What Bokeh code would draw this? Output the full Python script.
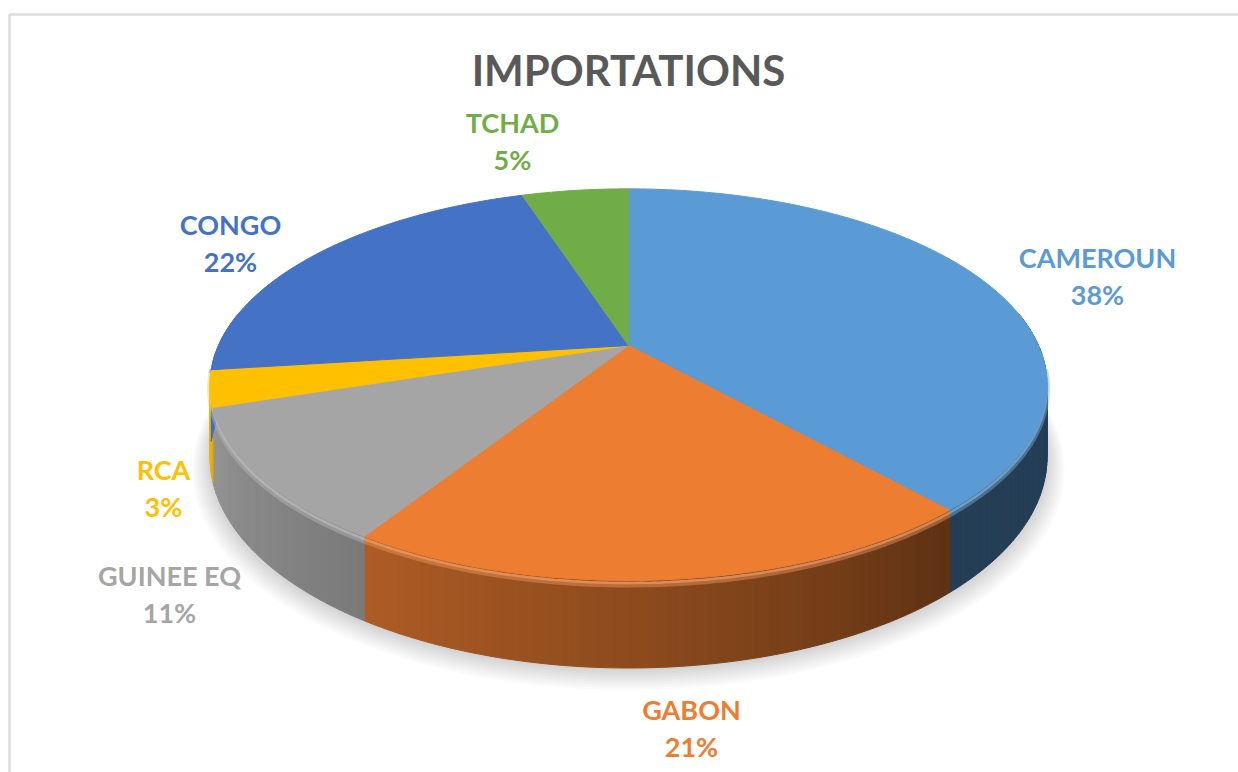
import numpy as np
from bokeh.plotting import figure
from bokeh.models import Range1d, ColumnDataSource
from bokeh.embed import file_html
from bokeh.resources import INLINE
from bokeh.core.properties import value

# ---------------- data ----------------
countries = ["CAMEROUN", "GABON", "GUINEE EQ", "RCA", "CONGO", "TCHAD"]
shares = [38.4, 20.6, 11.0, 3.0, 22.0, 5.0]
colors = ["#5B9BD5", "#ED7D31", "#A5A5A5", "#FFC000", "#4472C4", "#70AD47"]
title_text = "IMPORTATIONS"

# ---------------- layout ----------------
W, H = 1238, 772
CX, CY = 628, 345          # apex of the pie
A, B, K, D = 410, 188, 0.2, 70   # radii, perspective, depth
label_x = [1097, 691, 169, 163, 230, 512]
label_y = [257, 709, 575, 469, 224, 122]
line_gap = 37
FONT = value("Lato")


def proj(theta_deg, r=1.0):
    t = np.radians(theta_deg)
    u = r * np.sin(t)
    v = r * np.cos(t)
    w = 1 + K * v
    return CX + A * u / w, CY - B * v / w, w


def hex2rgb(h):
    h = h.lstrip("#")
    return [int(h[i:i + 2], 16) for i in (0, 2, 4)]


def rgb2hex(c):
    return "#%02x%02x%02x" % tuple(int(max(0, min(255, round(x)))) for x in c)


def shade(h, f):
    return rgb2hex([x * f for x in hex2rgb(h)])


def lighten(h, t):
    return rgb2hex([x + (255 - x) * t for x in hex2rgb(h)])


def light_factor(theta):
    return 0.40 + 0.55 * np.clip((theta - 140) / 125.0, 0, 1) ** 0.9


total = float(sum(shares))
bounds = np.concatenate([[0], np.cumsum(shares)]) / total * 360.0

p = figure(width=W, height=H, x_range=Range1d(0, W), y_range=Range1d(H, 0),
           output_backend="svg", toolbar_location=None, min_border=0,
           x_axis_type=None, y_axis_type=None)
p.grid.visible = False
p.outline_line_color = None
p.background_fill_color = "white"
p.border_fill_color = "white"

# frame of the chart area
p.quad(left=[9], right=[1260], top=[14], bottom=[800], fill_color=None,
       line_color="#DCDCDC", line_width=2.5)

# soft shadow under the pie
th_all = np.linspace(0, 360, 361)
for i in range(9):
    X, Y, Wt = proj(th_all, 1.0 + 0.005 * i)
    Y = Y + D / Wt + 2 + 0.9 * i
    p.patch(list(X), list(Y), fill_color="black", fill_alpha=0.02, line_color=None)

# side strips (front)
sx, sy, sc = [], [], []
for i, c in enumerate(colors):
    a0, a1 = bounds[i], bounds[i + 1]
    lo, hi = max(a0, 80), min(a1, 280)
    if hi <= lo:
        continue
    n = max(2, int(np.ceil(hi - lo)) + 1)
    ths = np.linspace(lo, hi, n)
    X, Y, Wt = proj(ths)
    Yb = Y + D / Wt
    for j in range(n - 1):
        sx.append([X[j], X[j + 1], X[j + 1], X[j]])
        sy.append([Y[j], Y[j + 1], Yb[j + 1], Yb[j]])
        sc.append(shade(c, light_factor(0.5 * (ths[j] + ths[j + 1]))))
p.patches("xs", "ys", fill_color="c", line_color="c", line_width=1,
          source=ColumnDataSource(dict(xs=sx, ys=sy, c=sc)))

# bevel highlight along the front rim
for i, c in enumerate(colors):
    a0, a1 = bounds[i], bounds[i + 1]
    lo, hi = max(a0, 96), min(a1, 264)
    if hi <= lo:
        continue
    ths = np.linspace(lo, hi, max(2, int(hi - lo) + 1))
    X, Y, Wt = proj(ths)
    p.line(list(X), list(Y + 4), line_color=lighten(c, 0.2), line_width=6, line_alpha=0.45)
    p.line(list(X), list(Y + 2.5), line_color=lighten(c, 0.3), line_width=2.5, line_alpha=0.6)

# top faces
tx, ty, tc = [], [], []
for i, c in enumerate(colors):
    a0, a1 = bounds[i], bounds[i + 1]
    ths = np.linspace(a0, a1, max(2, int(np.ceil(a1 - a0)) + 1))
    X, Y, _ = proj(ths)
    tx.append([CX] + list(X))
    ty.append([CY] + list(Y))
    tc.append(c)
p.patches("xs", "ys", fill_color="c", line_color="c", line_width=1,
          source=ColumnDataSource(dict(xs=tx, ys=ty, c=tc)))

# title
p.text(x=[628], y=[69], text=[title_text], text_font=FONT, text_font_style="bold",
       text_font_size="42px", text_color="#595959", text_align="center",
       text_baseline="middle")

# labels
pcts = ["%d%%" % round(s / total * 100) for s in shares]
src = ColumnDataSource(dict(x=label_x, y=label_y, y2=[y + line_gap for y in label_y],
                            name=countries, pct=pcts, c=colors))
p.text(x="x", y="y", text="name", source=src, text_font=FONT, text_font_style="bold",
       text_font_size="27px", text_color="c", text_align="center", text_baseline="middle")
p.text(x="x", y="y2", text="pct", source=src, text_font=FONT, text_font_style="bold",
       text_font_size="27px", text_color="c", text_align="center", text_baseline="middle")

open("out.html", "w").write(file_html(p, INLINE))
